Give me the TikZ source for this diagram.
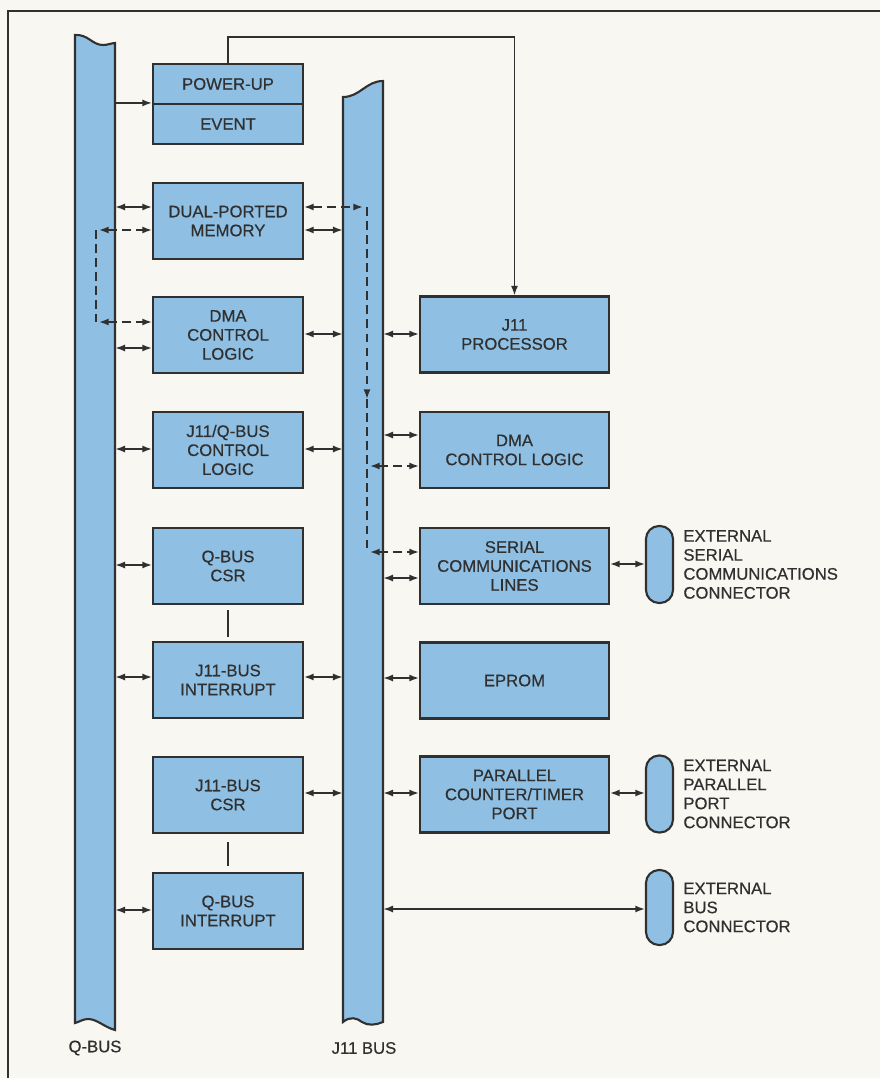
\documentclass[tikz,border=0pt]{standalone}
\usepackage{fontspec}
\setmainfont[FakeBold=0.5]{Liberation Sans}
\usetikzlibrary{arrows.meta,positioning}
\definecolor{busblue}{RGB}{143,192,228}
\definecolor{ink}{RGB}{48,48,48}
\definecolor{paper}{RGB}{248,247,242}

\begin{document}
\begin{tikzpicture}[x=0.02cm,y=-0.02cm,
  >={Latex[length=5.5pt,width=4pt]},
  every node/.style={font=\fontsize{9.5}{10.8}\selectfont,text=ink},
  blk/.style={draw=ink,line width=1.2pt,fill=busblue,minimum width=3cm,minimum height=1.52cm,align=center,inner sep=1pt},
  wblk/.style={blk,minimum width=3.78cm},
  plug/.style={draw=ink,line width=1.2pt,fill=busblue,rounded corners=0.26cm,minimum width=0.54cm,minimum height=1.54cm,inner sep=0pt},
  busanchor/.style={minimum width=0.8cm,inner sep=0pt},
  busline/.style={draw=ink,line width=1.2pt,fill=busblue},
  link/.style={draw=ink,line width=0.9pt},
  dlink/.style={link,dash pattern=on 5pt off 3pt},
  extlabel/.style={align=left,inner sep=0pt}]
  \useasboundingbox (0,0) rectangle (880,1078);
  \fill[paper] (0,0) rectangle (880,1078);
  \draw[ink,line width=1.2pt] (880,11) -- (8,11) -- (8,1078);

  % the two buses
  \draw[busline] (75,35) .. controls (88,34) and (92,45) .. (103,45)
    .. controls (108,45) and (112,43) .. (115,43) -- (115,1030)
    .. controls (104,1027) and (97,1019) .. (88,1019)
    .. controls (83,1019) and (79,1022) .. (75,1023) -- cycle;
  \draw[busline] (343,97) .. controls (360,97) and (366,81) .. (383,81) -- (383,1022)
    .. controls (376,1025) and (368,1026) .. (362,1022)
    .. controls (357,1018) and (350,1016) .. (343,1022) -- cycle;
  \node[busanchor,minimum height=19.9cm] (qbus) at (95,532.5) {};
  \node[busanchor,minimum height=18.86cm] (jbus) at (363,552) {};
  \node (qlab) at (95,1048) {Q-BUS};
  \node (jlab) at (364,1048) {J11 BUS};

  % left column
  \node[blk,minimum height=0.8cm] (pwr) at (228,84) {POWER-UP};
  \node[blk,minimum height=0.8cm] (evt) at (228,124) {EVENT};
  \node[blk] (dpm) at (228,221) {DUAL-PORTED\\MEMORY};
  \node[blk] (dmal) at (228,335) {DMA\\CONTROL\\LOGIC};
  \node[blk] (jqctl) at (228,450) {J11/Q-BUS\\CONTROL\\LOGIC};
  \node[blk] (qcsr) at (228,566) {Q-BUS\\CSR};
  \node[blk] (jint) at (228,680) {J11-BUS\\INTERRUPT};
  \node[blk] (jcsr) at (228,795) {J11-BUS\\CSR};
  \node[blk] (qint) at (228,911) {Q-BUS\\INTERRUPT};

  % right column
  \node[wblk] (proc) at (514.5,334.5) {J11\\PROCESSOR};
  \node[wblk] (dmar) at (514.5,450) {DMA\\CONTROL LOGIC};
  \node[wblk] (serial) at (514.5,566) {SERIAL\\COMMUNICATIONS\\LINES};
  \node[wblk] (eprom) at (514.5,680.5) {EPROM};
  \node[wblk] (par) at (514.5,794.5) {PARALLEL\\COUNTER/TIMER\\PORT};

  % external connectors
  \node[plug] (conser) at (659.5,564.5) {};
  \node[plug] (conpar) at (659.5,794) {};
  \node[plug,minimum height=1.5cm] (conbus) at (659.5,907.5) {};
  \node[extlabel,right=0.18cm of conser] (lser) {EXTERNAL\\SERIAL\\COMMUNICATIONS\\CONNECTOR};
  \node[extlabel,right=0.18cm of conpar] (lpar) {EXTERNAL\\PARALLEL\\PORT\\CONNECTOR};
  \node[extlabel,right=0.18cm of conbus] (lbus) {EXTERNAL\\BUS\\CONNECTOR};

  % bus links
  \foreach \b/\yy in {dpm/207,dmal/348,jqctl/449,qcsr/565,jint/677,qint/910}
    \draw[link,<->] (qbus.east |- 0,\yy) -- (\b.west |- 0,\yy);
  \foreach \b/\yy in {dpm/230,dmal/334,jqctl/449,jint/677,jcsr/793}
    \draw[link,<->] (\b.east |- 0,\yy) -- (jbus.west |- 0,\yy);
  \foreach \b/\yy in {proc/334,dmar/435,serial/578,eprom/678,par/793}
    \draw[link,<->] (jbus.east |- 0,\yy) -- (\b.west |- 0,\yy);
  \draw[link,<->] (serial.east |- 0,564) -- (conser.west |- 0,564);
  \draw[link,<->] (par.east |- 0,793) -- (conpar.west |- 0,793);
  \draw[link,<->] (jbus.east |- 0,909) -- (conbus.west |- 0,909);

  \draw[link,->] (qbus.east |- evt.north) -- (evt.north west);
  \draw[link,->] (pwr.north) -- ++(0,-26) -| (proc.north);
  \draw[link,shorten <=0.1cm,shorten >=0.08cm] (qcsr.south) -- (jint.north);
  \draw[link,shorten <=0.16cm,shorten >=0.12cm] (jcsr.south) -- (qint.north);

  % DMA paths (dashed)
  \coordinate (dl1) at (96,230);
  \coordinate (dl2) at (96,322);
  \draw[dlink] (dl1) -- (dl2);
  \draw[dlink,<->,shorten <=0.06cm] (dl1) -- (dpm.west |- dl1);
  \draw[dlink,<->,shorten <=0.06cm] (dl2) -- (dmal.west |- dl2);
  \coordinate (dr0) at (367,207);
  \coordinate (drm) at (367,399);
  \coordinate (dr1) at (367,466);
  \coordinate (dr2) at (367,552);
  \draw[dlink,<->,shorten >=0.08cm] (dpm.east |- dr0) -- (dr0);
  \draw[dlink,->] (dr0) -- (drm);
  \draw[dlink] (drm) -- (dr2);
  \draw[dlink,<->,shorten <=0.06cm] (dr1) -- (dmar.west |- dr1);
  \draw[dlink,<->,shorten <=0.06cm] (dr2) -- (serial.west |- dr2);
\end{tikzpicture}
\end{document}
